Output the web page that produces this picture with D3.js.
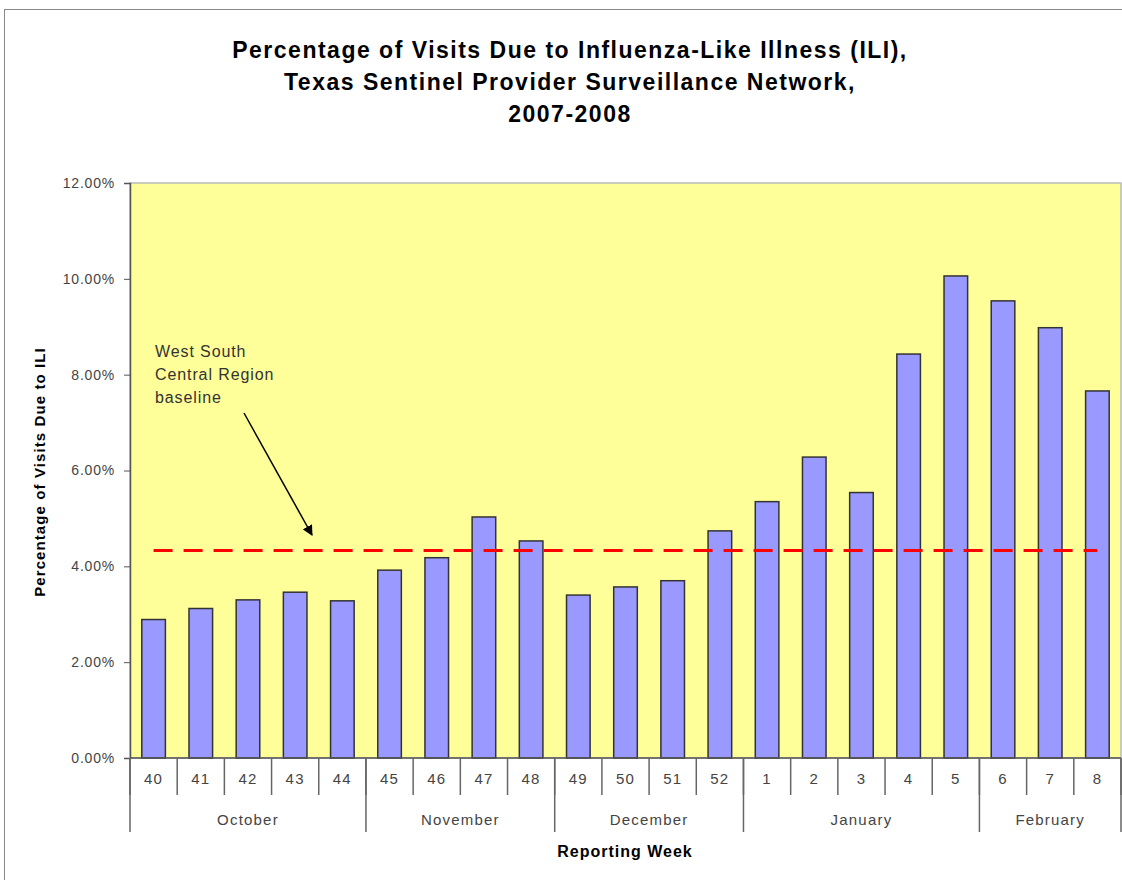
<!DOCTYPE html>
<html><head><meta charset="utf-8">
<script src="https://cdn.jsdelivr.net/npm/d3@7"></script>
<style>
html,body{margin:0;padding:0;background:#fff;}
svg{display:block;font-family:"Liberation Sans",Arial,sans-serif;}
</style></head>
<body>
<svg id="chart" width="1122" height="880"></svg>
<script>
const weeks = ["40","41","42","43","44","45","46","47","48","49","50","51","52","1","2","3","4","5","6","7","8"];
const iliPct = [2.89,3.12,3.30,3.46,3.28,3.92,4.18,5.03,4.53,3.40,3.57,3.70,4.74,5.35,6.28,5.54,8.43,10.06,9.54,8.98,7.66];
const months = ["October","November","December","January","February"];
const monthWeekCounts = [5,4,4,5,3];
const baselinePct = 4.33;
const yTicks = [0,2,4,6,8,10,12];
const titleLines = ["Percentage of Visits Due to Influenza-Like Illness (ILI),","Texas Sentinel Provider Surveillance Network,","2007-2008"];
const annotationLines = ["West South","Central Region","baseline"];

const svg = d3.select("#chart");
const L = 130, R = 1121, T = 183, B = 758;

// outer chart border
svg.append("rect").attr("x",4.5).attr("y",9.5).attr("width",1125).attr("height",880)
  .attr("fill","#fff").attr("stroke","#888").attr("stroke-width",1);

const x = d3.scaleBand().domain(weeks).range([L,R]).padding(0);
const y = d3.scaleLinear().domain([0,12]).range([B,T]);

// plot area
svg.append("rect").attr("x",L).attr("y",T).attr("width",R-L).attr("height",B-T)
  .attr("fill","#FFFF99").attr("stroke","#BBBBBB").attr("stroke-width",1.5);

// bars
const bw = x.bandwidth()*0.5;
svg.append("g").selectAll("rect").data(weeks).join("rect")
  .attr("x",(d)=>x(d)+(x.bandwidth()-bw)/2)
  .attr("y",(d,i)=>y(iliPct[i]))
  .attr("width",bw)
  .attr("height",(d,i)=>B-y(iliPct[i]))
  .attr("fill","#9999FF").attr("stroke","#333333").attr("stroke-width",1.5);

// baseline dashed line
const line = d3.line().x(d=>x(d)+x.bandwidth()/2).y(()=>y(baselinePct));
svg.append("path").datum([weeks[0],weeks[weeks.length-1]]).attr("d",line)
  .attr("fill","none").attr("stroke","#FF0000").attr("stroke-width",3).attr("stroke-dasharray","19,11");

// y axis
const yAxis = d3.axisLeft(y).tickValues(yTicks).tickSize(6).tickPadding(9)
  .tickFormat(d=>d3.format(".2f")(d)+"%");
const gy = svg.append("g").attr("transform",`translate(${L},0)`).call(yAxis);
gy.attr("font-family",null).attr("font-size",null);
gy.select(".domain").attr("stroke","#555").attr("stroke-width",1.5);
gy.selectAll(".tick line").attr("stroke","#555");
gy.selectAll(".tick text").attr("fill","#444").style("font-size","14px").style("letter-spacing","0.8px");

// x axis (weeks)
const gx = svg.append("g").attr("transform",`translate(0,${B})`);
gx.append("line").attr("x1",L).attr("x2",R).attr("y1",0).attr("y2",0).attr("stroke","#555").attr("stroke-width",1.5);
const boundaries = weeks.map(w=>x(w)).concat([R]);
gx.selectAll("line.wk").data(boundaries).join("line").attr("class","wk")
  .attr("x1",d=>d).attr("x2",d=>d).attr("y1",0).attr("y2",37).attr("stroke","#666").attr("stroke-width",1.5);
gx.selectAll("text.wk").data(weeks).join("text").attr("class","wk")
  .attr("x",d=>x(d)+x.bandwidth()/2).attr("y",26).attr("text-anchor","middle")
  .attr("fill","#444").style("font-size","15px").style("letter-spacing","1.2px").text(d=>d);

// month level
let idx = 0;
const monthSpans = months.map((m,i)=>{const s=idx; idx+=monthWeekCounts[i]; return {m, start:weeks[s], end:weeks[idx-1]};});
const mStart = d=>x(d.start), mEnd = d=>x(d.end)+x.bandwidth();
gx.selectAll("line.mo").data(monthSpans).join("line").attr("class","mo")
  .attr("x1",mStart).attr("x2",mStart).attr("y1",0).attr("y2",74).attr("stroke","#666").attr("stroke-width",1.5);
gx.append("line").attr("x1",R).attr("x2",R).attr("y1",0).attr("y2",74).attr("stroke","#666").attr("stroke-width",1.5);
gx.selectAll("text.mo").data(monthSpans).join("text").attr("class","mo")
  .attr("x",d=>(mStart(d)+mEnd(d))/2).attr("y",67).attr("text-anchor","middle")
  .attr("fill","#444").style("font-size","15px").style("letter-spacing","1.2px").text(d=>d.m);

// axis titles
svg.append("text").attr("x",625).attr("y",857).attr("text-anchor","middle")
  .style("font-weight","bold").style("font-size","16px").style("letter-spacing","1px").attr("fill","#000").text("Reporting Week");
svg.append("text").attr("transform","translate(45,472) rotate(-90)").attr("text-anchor","middle")
  .style("font-weight","bold").style("font-size","15px").style("letter-spacing","1.1px").attr("fill","#000").text("Percentage of Visits Due to ILI");

// title
svg.append("g").selectAll("text").data(titleLines).join("text")
  .attr("x",570).attr("y",(d,i)=>58+i*32).attr("text-anchor","middle")
  .style("font-weight","bold").style("font-size","23px").style("letter-spacing","1.5px").attr("fill","#000").text(d=>d);

// annotation
svg.append("g").selectAll("text").data(annotationLines).join("text")
  .attr("x",155).attr("y",(d,i)=>357+i*23).style("font-size","16px").style("letter-spacing","0.9px").attr("fill","#333").text(d=>d);
svg.append("defs").append("marker").attr("id","ah").attr("viewBox","0 0 10 10").attr("refX",9).attr("refY",5)
  .attr("markerWidth",7).attr("markerHeight",7).attr("orient","auto")
  .append("path").attr("d","M0,0 L10,5 L0,10 z").attr("fill","#000");
svg.append("line").attr("x1",244).attr("y1",413).attr("x2",312).attr("y2",535)
  .attr("stroke","#000").attr("stroke-width",1.5).attr("marker-end","url(#ah)");
</script>
</body></html>
